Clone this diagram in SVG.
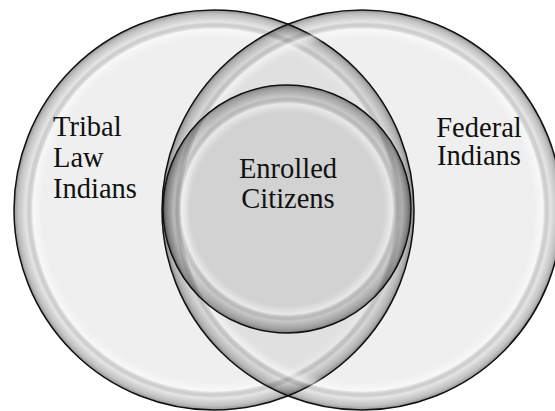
<svg xmlns="http://www.w3.org/2000/svg" width="555" height="411" viewBox="0 0 555 411">
  <defs>
    <!-- glassy rim for the two large circles (r = 200) -->
    <radialGradient id="rimLarge">
      <stop offset="0" stop-color="#fff" stop-opacity="0"/>
      <stop offset="0.86" stop-color="#fff" stop-opacity="0"/>
      <stop offset="0.905" stop-color="#fff" stop-opacity="0.55"/>
      <stop offset="0.94" stop-color="#000" stop-opacity="0.04"/>
      <stop offset="0.98" stop-color="#000" stop-opacity="0.2"/>
      <stop offset="1" stop-color="#000" stop-opacity="0.38"/>
    </radialGradient>
    <!-- glassy rim for the inner circle (r = 124) -->
    <radialGradient id="rimSmall">
      <stop offset="0" stop-color="#fff" stop-opacity="0"/>
      <stop offset="0.78" stop-color="#fff" stop-opacity="0"/>
      <stop offset="0.85" stop-color="#fff" stop-opacity="0.5"/>
      <stop offset="0.905" stop-color="#000" stop-opacity="0.05"/>
      <stop offset="0.97" stop-color="#000" stop-opacity="0.24"/>
      <stop offset="1" stop-color="#000" stop-opacity="0.4"/>
    </radialGradient>
  </defs>
  <style>
    .base { fill: #000; fill-opacity: 0.062; }
    .edge { fill: none; stroke: #111; stroke-width: 1.5; }
    text { font-family: "Liberation Serif", "Times New Roman", "DejaVu Serif", serif; font-size: 28.5px; fill: #111; }
  </style>

  <rect width="555" height="411" fill="#fff"/>

  <g id="tribal-law-indians">
    <circle class="base" cx="214" cy="210" r="200"/>
    <circle cx="214" cy="210" r="200" fill="url(#rimLarge)"/>
    <circle class="edge" cx="214" cy="210" r="200"/>
  </g>

  <g id="federal-indians">
    <circle class="base" cx="362" cy="210" r="200"/>
    <circle cx="362" cy="210" r="200" fill="url(#rimLarge)"/>
    <circle class="edge" cx="362" cy="210" r="200"/>
  </g>

  <g id="enrolled-citizens">
    <circle class="base" cx="287" cy="209" r="124"/>
    <circle cx="287" cy="209" r="124" fill="url(#rimSmall)"/>
    <circle class="edge" cx="287" cy="209" r="124"/>
  </g>

  <g id="labels">
    <text x="53" y="136">Tribal</text>
    <text x="53" y="167">Law</text>
    <text x="53" y="198">Indians</text>
    <text x="479" y="137" text-anchor="middle">Federal</text>
    <text x="479" y="165" text-anchor="middle">Indians</text>
    <text x="288" y="178" text-anchor="middle">Enrolled</text>
    <text x="288" y="208" text-anchor="middle">Citizens</text>
  </g>
</svg>
